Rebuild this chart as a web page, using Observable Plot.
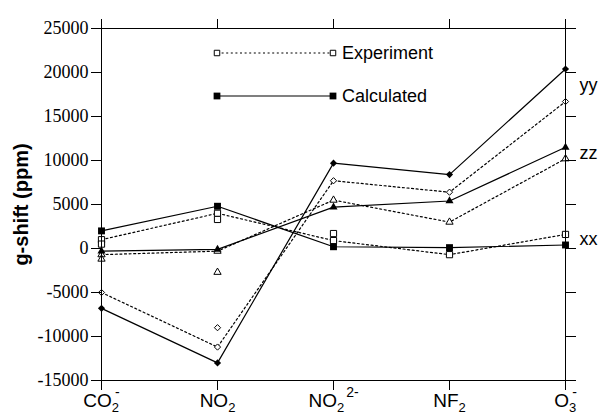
<!DOCTYPE html>
<html><head><meta charset="utf-8">
<script src="https://cdn.jsdelivr.net/npm/d3@7"></script>
<script src="https://cdn.jsdelivr.net/npm/@observablehq/plot@0.6"></script>
<style>
html,body{margin:0;padding:0;background:#fff;}
#wrap{position:relative;width:600px;height:416px;}
#legend{position:absolute;left:0;top:0;pointer-events:none;}
</style></head><body>
<div id="wrap"></div>
<script>
// ---- data ----
const categories = ["CO2-","NO2","NO22-","NF2","O3-"];
const catBase = ["CO","NO","NO","NF","O"];
const catSub  = ["2","2","2","2","3"];
const catSup  = ["-","","2-","","-"];
const components = ["yy","zz","xx"];
const calcYY = [-6800,-13000,9700,8400,20400];
const calcZZ = [-300,-100,4700,5400,11500];
const calcXX = [2000,4800,200,100,400];
const expYY  = [-5000,-11200,7700,6400,16700];
const expZZ  = [-700,-300,5500,3000,10200];
const expXX  = [1000,4000,900,-700,1600];
// additional experimental values (not joined by the dotted line)
const expExtraCat  = ["NO2","NO2","NO2","NO22-","CO2-","CO2-"];
const expExtraComp = ["yy","zz","xx","xx","xx","zz"];
const expExtraVal  = [-9000,-2700,3300,1700,500,-1200];
const yTicks = [-15000,-10000,-5000,0,5000,10000,15000,20000,25000];
const legendLabels = ["Experiment","Calculated"];

const calc = {yy:calcYY, zz:calcZZ, xx:calcXX};
const exp  = {yy:expYY,  zz:expZZ,  xx:expXX};
const calcRows = [], expRows = [];
for (const c of components) categories.forEach((cat,i)=>{
  calcRows.push({cat, comp:c, v:calc[c][i]});
  expRows.push({cat, comp:c, v:exp[c][i]});
});
const extraRows = expExtraCat.map((cat,i)=>({cat, comp:expExtraComp[i], v:expExtraVal[i]}));

const symbolOf = {yy:"diamond2", zz:"triangle", xx:"square"};
const rFilled = {yy:3.2, zz:3.0, xx:3.9};
const rOpen   = {yy:2.8, zz:2.7, xx:3.5};
const DOT = "2,2.6";

const dotMarks = [];
for (const c of components) {
  dotMarks.push(Plot.dot(expRows.concat(extraRows).filter(d=>d.comp===c),
    {x:"cat", y:"v", symbol:symbolOf[c], r:rOpen[c], fill:"white", stroke:"black", strokeWidth:1}));
}
for (const c of components) {
  dotMarks.push(Plot.dot(calcRows.filter(d=>d.comp===c),
    {x:"cat", y:"v", symbol:symbolOf[c], r:rFilled[c], fill:"black", stroke:"none"}));
}

const plot = Plot.plot({
  width: 600, height: 416,
  marginLeft: 101, marginRight: 35, marginTop: 28, marginBottom: 36,
  style: {fontFamily: "Liberation Sans", background: "white", color: "black"},
  x: {type: "point", domain: categories, padding: 0},
  y: {domain: [-15000, 25000]},
  marks: [
    Plot.line(expRows, {x:"cat", y:"v", z:"comp", stroke:"black", strokeWidth:1.2, strokeDasharray:DOT}),
    Plot.line(calcRows, {x:"cat", y:"v", z:"comp", stroke:"black", strokeWidth:1.2}),
    ...dotMarks,
    Plot.frame({stroke:"black", strokeWidth:1}),
    Plot.axisY(yTicks, {anchor:"left", tickSize:10, tickPadding:3, fontSize:18, fontFamily:"Liberation Serif", label:null, tickFormat: d => String(d)}),
    Plot.axisY(yTicks, {anchor:"right", tickSize:10, label:null, tickFormat: () => ""}),
    Plot.axisX({anchor:"top", tickSize:10, label:null, tickFormat: () => ""}),
    Plot.axisX({anchor:"bottom", tickSize:10, tickPadding:3, fontSize:19, fontFamily:"Liberation Sans", label:null}),
    Plot.text(["g-shift (ppm)"], {text:d=>d, frameAnchor:"left", textAnchor:"middle", lineAnchor:"middle", dx:-80, rotate:-90, fontSize:20, fontWeight:"bold", fontFamily:"Liberation Sans"}),
    Plot.text(components, {x: () => categories[categories.length-1], y: c => (calc[c][4]+exp[c][4])/2, text:d=>d, dx:14, textAnchor:"start", fontSize:18, fontFamily:"Liberation Sans"})
  ]
});
document.getElementById("wrap").appendChild(plot);

// category labels with sub/superscripts
d3.select(plot).selectAll('g[aria-label="x-axis tick label"] text').each(function(){
  const t = d3.select(this);
  const i = categories.indexOf(this.textContent.trim());
  if (i < 0) return;
  t.text(null);
  t.append("tspan").text(catBase[i]);
  t.append("tspan").attr("font-size", 13).attr("dy", 5).text(catSub[i]);
  if (catSup[i]) {
    const stacked = catSup[i].length === 1;
    t.append("tspan").attr("font-size", 14).attr("dy", -15)
      .attr("dx", stacked ? -4 : 2).text(catSup[i]);
  }
});

// legend overlay
const xs = plot.scale("x");
const lx1 = xs.apply(categories[1]), lx2 = xs.apply(categories[2]);
const leg = d3.select("#wrap").append("svg").attr("id","legend").attr("width",600).attr("height",416);
const legRows = [{label:legendLabels[0], y:53, open:true}, {label:legendLabels[1], y:96, open:false}];
for (const r of legRows) {
  leg.append("line").attr("x1",lx1).attr("x2",lx2).attr("y1",r.y).attr("y2",r.y)
    .attr("stroke","black").attr("stroke-width",1.2).attr("stroke-dasharray", r.open ? DOT : null);
  for (const x of [lx1, lx2]) {
    leg.append("path").attr("transform",`translate(${x},${r.y})`)
      .attr("d", d3.symbol(d3.symbolSquare, r.open ? 30 : 46)())
      .attr("fill", r.open ? "white" : "black").attr("stroke", r.open ? "black" : "none").attr("stroke-width",1);
  }
  leg.append("text").attr("x", lx2 + 9).attr("y", r.y + 6).attr("font-family","Liberation Sans")
    .attr("font-size", 18).attr("fill","black").text(r.label);
}
</script>
</body></html>
